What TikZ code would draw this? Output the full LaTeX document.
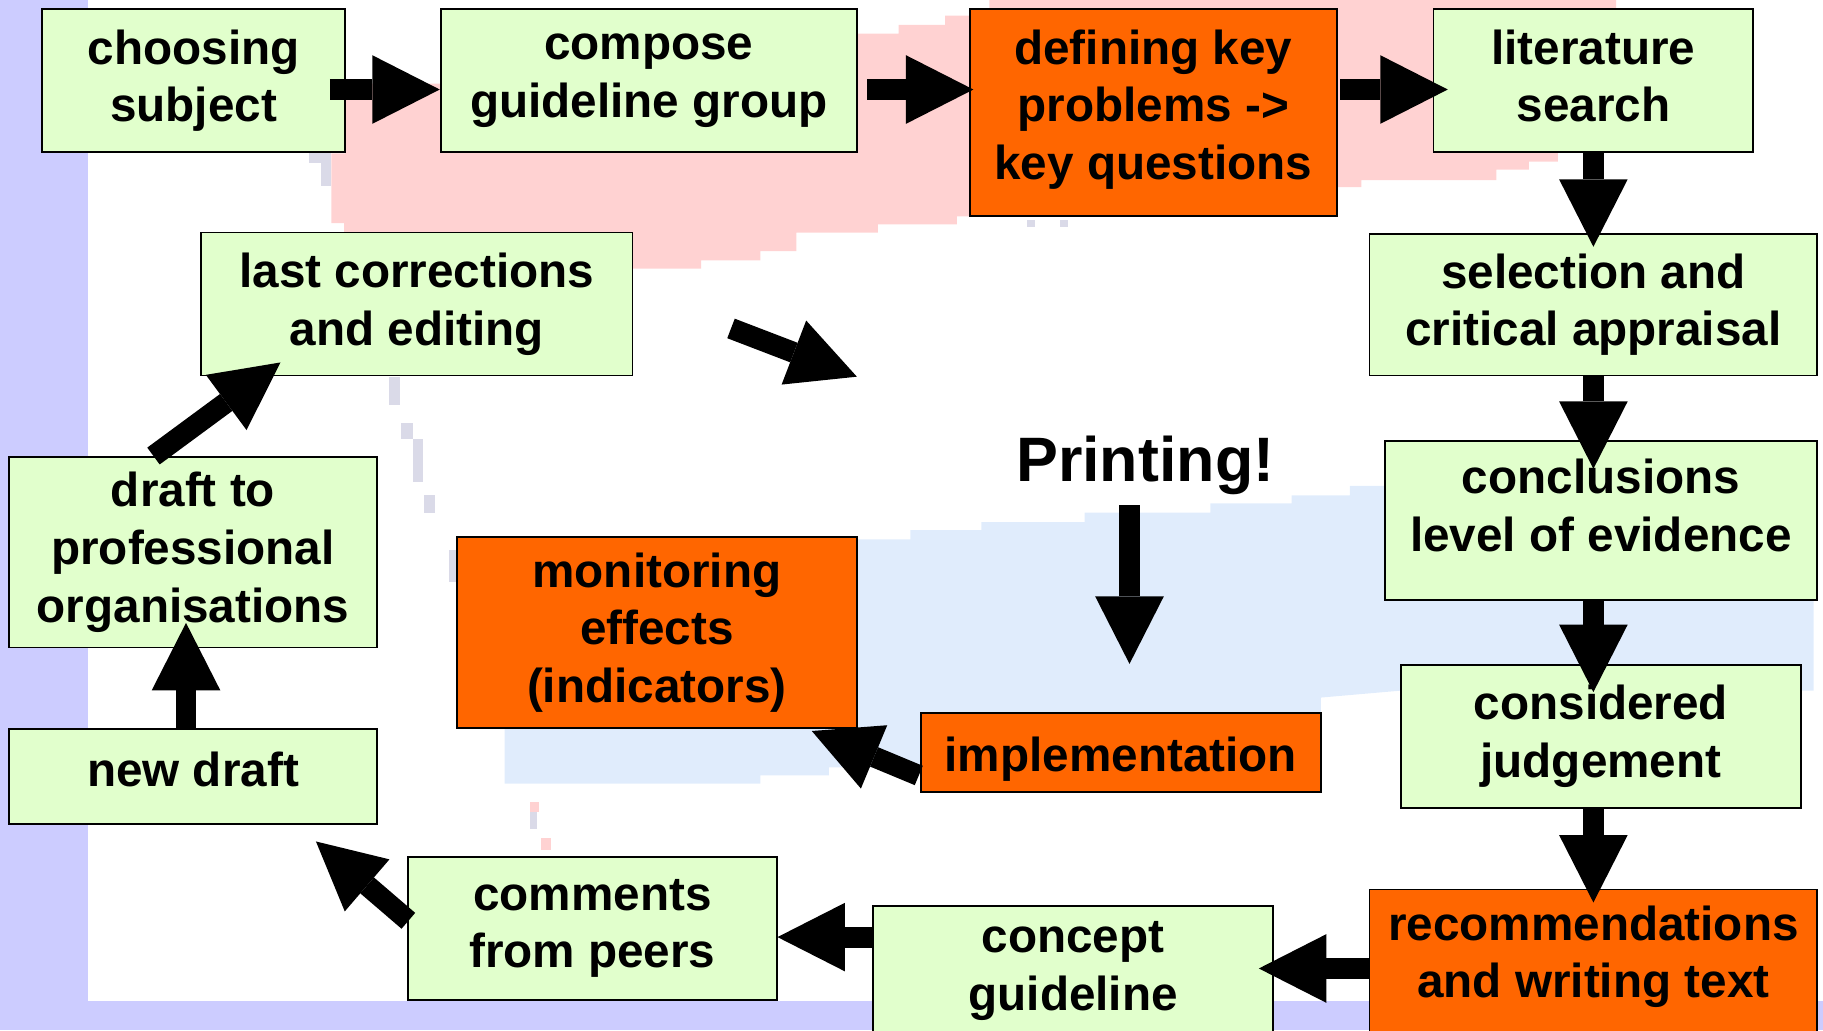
\documentclass[tikz,border=0pt]{standalone}
\usepackage{fontspec}
\setmainfont{Liberation Sans}
\usetikzlibrary{arrows.meta,calc}

\definecolor{boxgreen}{RGB}{225,255,204}
\definecolor{boxorange}{RGB}{255,102,0}
\definecolor{bandblue}{RGB}{204,204,255}
\definecolor{blotpink}{RGB}{255,210,210}
\definecolor{blotblue}{RGB}{224,236,252}
\definecolor{speck}{RGB}{218,218,232}

\newcommand{\stepfont}{\fontsize{41}{49.5}\selectfont\bfseries}
\newcommand{\topstrut}[1]{\rule{0pt}{#1pt}}
\newcommand{\botstrut}[1]{\rule[-#1pt]{0pt}{#1pt}}

\tikzset{
  stepbox/.style={draw=black, line width=1.5, fill=boxgreen, align=center, inner sep=0pt, font=\stepfont,
    execute at begin node=\topstrut{41}, execute at end node=\botstrut{8.5}},
  hotbox/.style={stepbox, fill=boxorange},
  textup/.style={execute at end node=\botstrut{#1}},
  textdown/.style={execute at begin node=\topstrut{#1}},
  fatarrow/.style={line width=18, -{Triangle[length=58pt, width=59pt, line width=0pt]}},
}

\begin{document}
\begin{tikzpicture}[x=1pt, y=-1pt]
\useasboundingbox (0,0) rectangle (1568,886);
\clip (0,0) rectangle (1568,886);

% background
\fill[bandblue] (0,0) rectangle (76,886);
\fill[bandblue] (0,861) rectangle (1568,886);
\fill[blotpink] (285,132) -- (285,192) -- (296,192) -- (296,231) -- (603,231) -- (603,224) -- (654,224) -- (654,216)
  -- (685,216) -- (685,200) -- (755,200) -- (755,193) -- (823,193) -- (823,186) -- (1150,186) -- (1150,161)
  -- (1171,161) -- (1171,155) -- (1287,155) -- (1287,146) -- (1315,146) -- (1315,139) -- (1340,139) -- (1340,100)
  -- (1390,100) -- (1390,0) -- (851,0) -- (851,8) -- (834,8) -- (834,13.5) -- (813,13.5) -- (813,21.5)
  -- (773,21.5) -- (773,29) -- (737,29) -- (737,72) -- (297,72) -- (297,132) -- cycle;
\fill[blotblue] (737,464) -- (783,464) -- (783,456) -- (844,456) -- (844,449) -- (933,449) -- (933,441)
  -- (1041,441) -- (1041,433) -- (1111,433) -- (1111,426) -- (1161,426) -- (1161,418) -- (1560,418)
  -- (1560,594) -- (1205,594) -- (1136,600) -- (1136,613) -- (792,640) -- (792,660) -- (713,660) -- (713,667)
  -- (654,667) -- (654,674) -- (434,674) -- (434,626) -- (737,626) -- cycle;
\foreach \xa/\ya/\xb/\yb in {266/132/285/140, 276/140/285/160, 335/324/344/348, 345/364/355/378,
    355/378/364/415, 365/426/374/441, 386/473/392/501, 456/698/462/713, 883/189/890/195, 912/189/919/195}
  \fill[speck] (\xa,\ya) rectangle (\xb,\yb);
\fill[blotpink] (456,690) rectangle (464,698);
\fill[blotpink] (465,721) rectangle (474,731);

% steps
\node[stepbox, minimum width=261, minimum height=123] (choose) at (166.5,69.5) {choosing\\subject};
\node[stepbox, minimum width=358, minimum height=123] (compose) at (558,69.5) {compose\\guideline group};
\node[hotbox, minimum width=316, minimum height=178, textup=14] (define) at (992,97) {defining key\\problems ->\\key questions};
\node[stepbox, minimum width=275, minimum height=123] (litsearch) at (1370.5,69.5) {literature\\search};
\node[stepbox, minimum width=385, minimum height=122] (select) at (1370.5,262) {selection and\\critical appraisal};
\node[stepbox, minimum width=372, minimum height=137, textup=25.5] (conclude) at (1377,447.5) {conclusions\\level of evidence};
\node[stepbox, minimum width=344, minimum height=123] (judge) at (1377,633.5) {considered\\judgement};
\node[hotbox, minimum width=385, minimum height=124, textup=16.5] (recommend) at (1370.5,827) {recommendations\\and writing text};
\node[stepbox, minimum width=344, minimum height=112, textdown=53] (concept) at (923,835) {concept\\guideline};
\node[stepbox, minimum width=317, minimum height=123] (peers) at (509.5,798.5) {comments\\from peers};
\node[stepbox, minimum width=316, minimum height=82, textup=24.5] (newdraft) at (166,668) {new draft};
\node[stepbox, minimum width=316, minimum height=164] (profdraft) at (166,475) {draft to\\professional\\organisations};
\node[stepbox, minimum width=371, minimum height=123] (lastcorr) at (358.5,261.5) {last corrections\\and editing};
\node[hotbox, minimum width=344, minimum height=164] (monitor) at (565,544) {monitoring\\effects\\(indicators)};
\node[hotbox, minimum width=344, minimum height=68] (implement) at (964,647) {implementation};
\node[font=\fontsize{54}{60}\selectfont\bfseries, inner sep=0pt, anchor=base] (printing) at (985,414) {Printing!};

\coordinate (toprint) at (737,324);
\coordinate (printend) at (971.5,571);

\draw[fatarrow] ($(choose.east)+(-14,7.5)$) -- ($(compose.west)+(0,7.5)$);
\draw[fatarrow] ($(compose.east)+(8,7.5)$) -- ($(define.west)+(4,-20)$);
\draw[fatarrow] ($(define.east)+(2,-20)$) -- ($(litsearch.west)+(13,7.5)$);
\draw[fatarrow] (litsearch.south) -- ($(select.north)+(0,12)$);
\draw[fatarrow] (select.south) -- ($(conclude.north)+(-6.5,25)$);
\draw[fatarrow] ($(conclude.south)+(-6.5,0)$) -- ($(judge.north)+(-6.5,24)$);
\draw[fatarrow] ($(judge.south)+(-6.5,0)$) -- ($(recommend.north)+(0,12)$);
\draw[fatarrow] ($(recommend.west)+(0,6)$) -- ($(concept.east)+(-13,-2)$);
\draw[fatarrow] ($(concept.west)+(0,-29)$) -- ($(peers.east)+(0,7.5)$);
\draw[fatarrow] ($(peers.west)+(1,-6.5)$) -- ($(newdraft.south east)+(-53,14)$);
\draw[fatarrow] ($(newdraft.north)+(-6,0)$) -- ($(profdraft.south)+(-6,-22)$);
\draw[fatarrow] ($(profdraft.north)+(-34,0)$) -- ($(lastcorr.south west)+(69,-12)$);
\draw[fatarrow] ($(lastcorr.east)+(84,21)$) -- (toprint);
\draw[fatarrow] ($(printing.south)+(-13.5,9)$) -- (printend);
\draw[fatarrow] ($(implement.west)+(-1,20)$) -- ($(monitor.south east)+(-39.5,2)$);
\end{tikzpicture}
\end{document}
